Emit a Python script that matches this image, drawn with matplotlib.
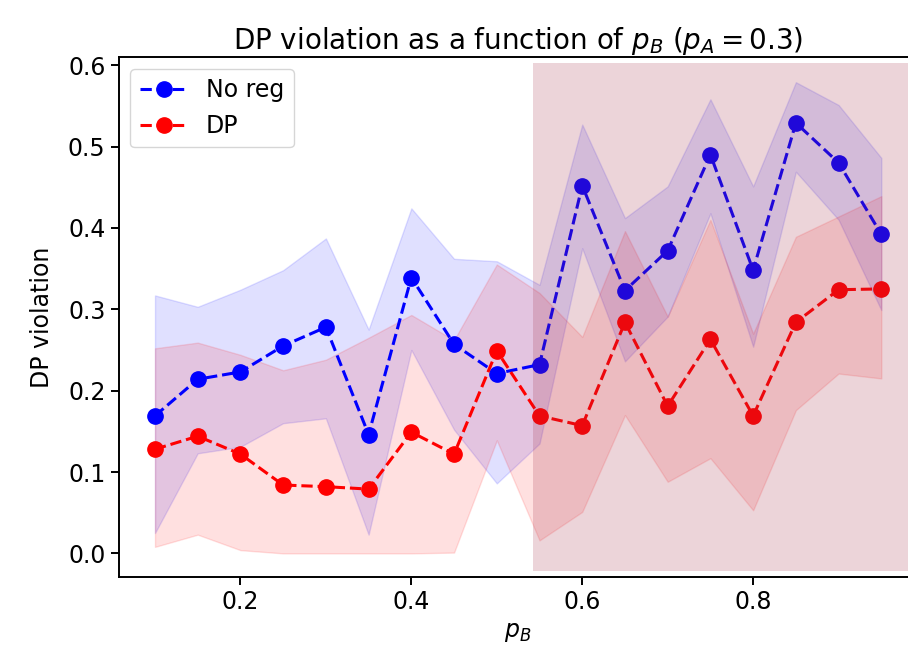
import numpy as np
import matplotlib
matplotlib.use("Agg")
import matplotlib.pyplot as plt
from matplotlib.patches import Rectangle

p_b = [0.10, 0.15, 0.20, 0.25, 0.30, 0.35, 0.40, 0.45, 0.50,
       0.55, 0.60, 0.65, 0.70, 0.75, 0.80, 0.85, 0.90, 0.95]

noreg_mean = [0.169, 0.214, 0.223, 0.255, 0.278, 0.146, 0.339, 0.257, 0.221,
              0.232, 0.452, 0.323, 0.372, 0.490, 0.348, 0.529, 0.480, 0.392]
noreg_low = [0.025, 0.123, 0.131, 0.160, 0.166, 0.023, 0.250, 0.152, 0.086,
             0.135, 0.375, 0.236, 0.291, 0.418, 0.254, 0.469, 0.410, 0.299]
noreg_high = [0.317, 0.303, 0.324, 0.348, 0.387, 0.275, 0.424, 0.362, 0.359,
              0.330, 0.527, 0.412, 0.451, 0.558, 0.451, 0.579, 0.551, 0.486]

dp_mean = [0.128, 0.144, 0.122, 0.084, 0.082, 0.079, 0.149, 0.122, 0.249,
           0.169, 0.157, 0.284, 0.181, 0.263, 0.169, 0.284, 0.324, 0.325]
dp_low = [0.008, 0.023, 0.004, 0.000, 0.000, 0.000, 0.000, 0.001, 0.139,
          0.016, 0.051, 0.170, 0.088, 0.117, 0.053, 0.176, 0.221, 0.215]
dp_high = [0.252, 0.259, 0.244, 0.225, 0.238, 0.265, 0.293, 0.262, 0.355,
           0.320, 0.266, 0.396, 0.291, 0.410, 0.270, 0.389, 0.414, 0.439]

# highlighted range of p_B
region_start = 0.542
region_y = (-0.0214, 0.603)

fig = plt.figure(figsize=(9.08, 6.55), dpi=100)
ax = fig.add_axes([0.1307, 0.1191, 0.8799, 0.7939])

ax.plot(p_b, noreg_mean, "bo--", lw=2.2, ms=11, label="No reg")
ax.fill_between(p_b, noreg_low, noreg_high, color="b", alpha=0.12)
ax.plot(p_b, dp_mean, "ro--", lw=2.2, ms=11, label="DP")
ax.fill_between(p_b, dp_low, dp_high, color="r", alpha=0.12)

ax.add_patch(Rectangle((region_start, region_y[0]), 1.0 - region_start,
                       region_y[1] - region_y[0], facecolor=(0.63, 0.16, 0.26),
                       alpha=0.2, edgecolor="none", zorder=5))

ax.set_xlim(0.0575, 0.9925)
ax.set_ylim(-0.029, 0.61)
ax.set_xticks([0.2, 0.4, 0.6, 0.8])
ax.set_yticks([0.0, 0.1, 0.2, 0.3, 0.4, 0.5, 0.6])
ax.tick_params(labelsize=17, length=6, width=1.4)
for s in ax.spines.values():
    s.set_linewidth(1.4)

ax.set_title("DP violation as a function of $p_B$ ($p_A = 0.3$)", fontsize=20)
ax.set_xlabel("$p_B$", fontsize=17)
ax.set_ylabel("DP violation", fontsize=17, labelpad=10)
ax.legend(loc="upper left", fontsize=17)

fig.savefig("out.png", dpi=100)
